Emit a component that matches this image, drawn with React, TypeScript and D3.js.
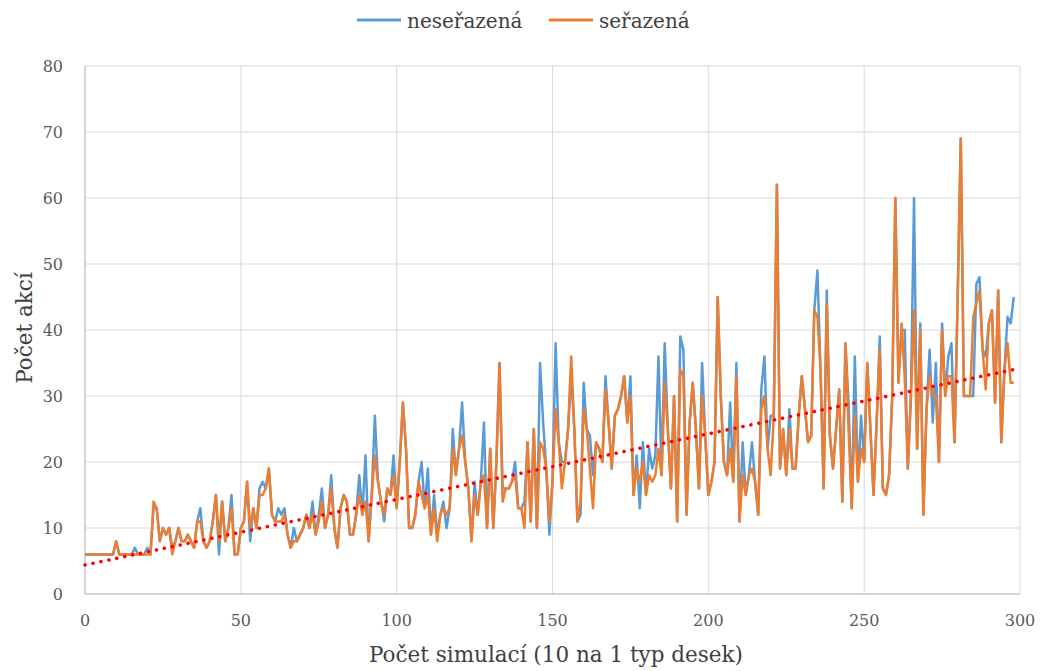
import React from "react";
import * as d3 from "d3";

// seřazená (orange)
const sorted: number[] = [
  6,6,6,6,6,6,6,6,6,6,
  8,6,6,6,6,6,6,6,6,6,
  6,6,14,13,8,10,9,10,6,8,
  10,8,8,9,8,7,11,11,8,7,
  8,11,15,8,14,8,10,13,6,6,
  10,11,17,10,13,10,15,15,16,19,
  12,11,11,11,12,9,7,8,8,9,
  10,12,10,12,9,11,14,10,12,16,
  10,7,13,15,14,9,9,12,15,12,
  14,8,15,21,17,14,12,16,15,18,
  13,20,29,22,10,10,12,17,15,13,
  15,9,13,8,12,13,12,13,22,18,
  22,24,20,16,8,15,12,17,18,10,
  22,10,20,35,14,16,16,17,18,13,
  13,10,23,11,25,10,23,22,19,11,
  17,28,23,16,20,25,36,25,11,14,
  28,25,19,13,23,22,20,31,26,19,
  27,28,30,33,26,30,15,19,17,20,
  15,18,17,18,22,18,32,25,16,30,
  11,34,33,12,26,32,25,16,30,24,
  15,17,20,45,30,20,18,22,17,33,
  11,18,15,18,19,17,12,28,30,22,
  18,27,62,19,25,18,25,19,19,27,
  33,28,23,24,43,42,34,16,44,24,
  19,25,31,14,38,25,13,27,17,22,
  20,35,25,15,26,37,16,15,18,30,
  60,32,41,33,19,30,43,22,40,12,
  28,33,30,30,20,40,30,33,33,23,
  45,69,30,30,30,42,44,46,37,31,
  41,43,29,46,23,34,38,32,32,
];

// neseřazená (blue)
const unsorted: number[] = [
  6,6,6,6,6,6,6,6,6,6,
  8,6,6,6,6,6,7,6,6,6,
  7,6,13,13,8,10,9,10,7,8,
  10,8,8,9,8,7,11,13,8,7,
  8,11,15,6,14,8,10,15,6,6,
  10,11,17,8,13,10,16,17,16,19,
  12,11,13,12,13,9,7,10,8,9,
  10,12,10,14,9,12,16,10,12,18,
  10,7,13,15,14,9,9,12,18,12,
  21,8,15,27,17,14,11,16,15,21,
  13,20,29,22,10,10,12,17,20,13,
  19,9,15,9,12,14,10,13,25,18,
  22,29,20,16,8,17,12,17,26,10,
  22,10,20,35,16,16,16,17,20,13,
  13,14,23,11,25,10,35,26,19,9,
  17,38,23,20,20,25,33,25,11,12,
  32,25,24,18,23,22,20,33,26,19,
  27,28,30,33,26,33,15,21,13,23,
  15,22,19,21,36,18,38,25,16,30,
  11,39,37,12,26,32,25,16,35,24,
  15,17,20,45,30,20,18,29,17,35,
  11,23,15,18,23,17,12,31,36,22,
  27,27,62,19,25,18,28,19,19,27,
  33,28,23,24,43,49,34,16,46,24,
  19,25,31,14,38,29,13,36,17,27,
  20,35,25,15,26,39,16,15,18,30,
  60,32,40,40,19,30,60,22,41,12,
  28,37,26,35,20,41,30,36,38,23,
  45,69,30,30,30,30,47,48,37,36,
  41,43,29,46,23,34,42,41,45,
];

// linear trend (start / end value)
const trendStart = 4.4;
const trendEnd = 34;

const xTicks = [0, 50, 100, 150, 200, 250, 300];
const yTicks = [0, 10, 20, 30, 40, 50, 60, 70, 80];
const seriesNames = ["neseřazená", "seřazená"];
const xTitle = "Počet simulací (10 na 1 typ desek)";
const yTitle = "Počet akcí";

const W = 1041, H = 671;
const M = { left: 85, right: 1020, top: 66, bottom: 594 };
const BLUE = "#5B9BD5", ORANGE = "#ED7D31";
const FONT = "'DejaVu Serif', 'Liberation Serif', serif";

export default function App() {
  const x = d3.scaleLinear().domain([0, 300]).range([M.left, M.right]);
  const y = d3.scaleLinear().domain([0, 80]).range([M.bottom, M.top]);
  const line = d3.line<number>().x((_, i) => x(i)).y((d) => y(d));
  const n = sorted.length - 1;

  return (
    <svg width={W} height={H} style={{ position: "absolute", left: 0, top: 0, background: "#fff" }}
      fontFamily={FONT}>
      {yTicks.map((t) => (
        <line key={"gy" + t} x1={M.left} x2={M.right} y1={y(t)} y2={y(t)} stroke="#d9d9d9" strokeWidth={1} />
      ))}
      {xTicks.map((t) => (
        <line key={"gx" + t} x1={x(t)} x2={x(t)} y1={M.top} y2={M.bottom} stroke="#d9d9d9" strokeWidth={1} />
      ))}
      <line x1={M.left} x2={M.right} y1={M.bottom} y2={M.bottom} stroke="#bfbfbf" strokeWidth={1} />
      <line x1={M.left} x2={M.left} y1={M.top} y2={M.bottom} stroke="#bfbfbf" strokeWidth={1} />
      {yTicks.map((t) => (
        <text key={"ty" + t} x={M.left - 22} y={y(t)} dy="0.36em" textAnchor="end" fontSize={16} fill="#595959">{t}</text>
      ))}
      {xTicks.map((t) => (
        <text key={"tx" + t} x={x(t)} y={M.bottom + 32} textAnchor="middle" fontSize={16} fill="#595959">{t}</text>
      ))}
      <path d={line(unsorted) || ""} fill="none" stroke={BLUE} strokeWidth={2.5} strokeLinejoin="round" />
      <path d={line(sorted) || ""} fill="none" stroke={ORANGE} strokeWidth={2.5} strokeLinejoin="round" />
      <line x1={x(0)} y1={y(trendStart)} x2={x(n)} y2={y(trendEnd)} stroke="#FF0000" strokeWidth={3.5}
        strokeDasharray="0.1 8" strokeLinecap="round" />
      <text x={556} y={662} textAnchor="middle" fontSize={21.5} fill="#404040">{xTitle}</text>
      <text transform={`translate(32,328) rotate(-90)`} textAnchor="middle" fontSize={21.5} fill="#404040">{yTitle}</text>
      <g>
        <line x1={357} x2={401} y1={20} y2={20} stroke={BLUE} strokeWidth={3} />
        <text x={407} y={28} fontSize={20} fill="#404040">{seriesNames[0]}</text>
        <line x1={549} x2={593} y1={20} y2={20} stroke={ORANGE} strokeWidth={3} />
        <text x={599} y={28} fontSize={20} fill="#404040">{seriesNames[1]}</text>
      </g>
    </svg>
  );
}
